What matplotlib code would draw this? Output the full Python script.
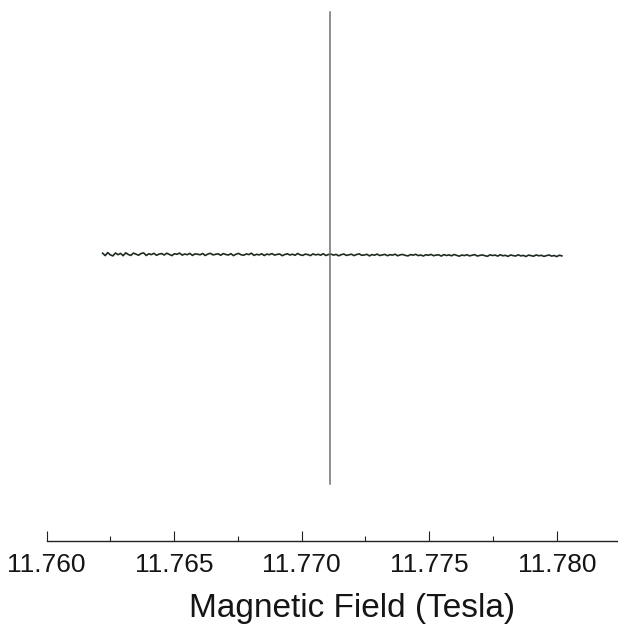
import numpy as np
import matplotlib
matplotlib.use("Agg")
import matplotlib.pyplot as plt

# ---- data (arbitrary signal units) ----
field_start = 11.7622      # Tesla, first sample of the trace
field_end = 11.7802        # Tesla, last sample of the trace
signal = [1.8, -0.6, 2.4, 0.1, -0.9, 2.0, 0.3, 1.6, -0.7, 2.2,
          0.5, -0.4, 1.9, 0.8, -0.2, 1.5, 2.1, -0.5, 1.2, 0.4,
          1.7, -0.3, 0.9, 1.4, 0.0, 1.8, 0.6, -0.6, 1.3, 0.7,
          1.9, -0.1, 1.0, 0.3, 1.6, -0.4, 1.1, 0.8, 0.2, 1.5,
          -0.5, 0.9, 1.7, 0.1, 0.6, 1.2, -0.3, 1.4, 0.5, 0.0,
          1.3, -0.6, 0.8, 1.6, 0.2, -0.2, 1.1, 0.4, 1.8, -0.4,
          0.7, 0.1, 1.2, -0.5, 0.9, 0.3, 1.4, -0.1, 0.6, 1.0,
          -0.7, 0.5, 1.2, 0.0, 0.8, -0.3, 1.5, 0.2, -0.4, 0.9,
          0.4, -0.6, 1.1, 0.1, 0.7, -0.2, 1.3, -0.5, 0.5, 0.9,
          -0.1, 0.6, -0.8, 0.3, 1.0, -0.4, 0.2, 0.8, -0.6, 0.5,
          1.1, -0.3, 0.0, 0.7, -0.9, 0.4, -0.2, 0.9, -0.5, 0.1,
          0.6, -0.7, 0.3, -0.1, 0.8, -0.8, 0.2, 0.5, -0.4, -0.9,
          0.4, -0.2, 0.7, -0.6, 0.0, -1.0, 0.3, -0.3, 0.6, -0.7,
          -0.1, 0.2, -1.1, 0.4, -0.5, 0.1, -0.8, 0.5, -0.3, -1.2,
          0.0, -0.6, 0.3, -0.9, -0.2, 0.4, -1.0, -0.4, 0.1, -0.7,
          -1.3, 0.2, -0.5, -0.1, -1.1, 0.3, -0.8, -0.3, -1.4, 0.0,
          -0.6, -1.0, 0.2, -0.9, -0.4, -1.5, -0.1, -0.7, -1.2, 0.1,
          -0.8, -0.3, -1.4, -0.6, 0.0, -1.1, -0.5, -1.6, -0.2, -0.9]
line_field = [11.7711, 11.7711]     # sharp resonance line
line_signal = [243, -229]

xticks_major = [11.760, 11.765, 11.770, 11.775, 11.780]
xtick_labels = ["11.760", "11.765", "11.770", "11.775", "11.780"]
xticks_minor = [11.7625, 11.7675, 11.7725, 11.7775]
x_label = "Magnetic Field (Tesla)"

field = np.linspace(field_start, field_end, len(signal))

# ---- figure ----
plt.rcParams['font.family'] = ['Liberation Sans', 'DejaVu Sans']
W, H = 618, 626
fig = plt.figure(figsize=(W / 100, H / 100), dpi=100)
ax_left = 46.5 / W
ax_bottom = (H - 541) / H
ax = fig.add_axes([ax_left, ax_bottom, 1 - ax_left, 1 - ax_bottom])

ax.plot(field, signal, color='#1f2a20', lw=1.2, zorder=2)
ax.plot(line_field, line_signal, color='#707070', lw=1.1, zorder=3)

ax.set_xlim(11.760, 11.7824)
ax.set_ylim(-286, 255)

for s in ['top', 'right', 'left']:
    ax.spines[s].set_visible(False)
ax.spines['bottom'].set_color('#222222')
ax.spines['bottom'].set_linewidth(1.0)
ax.set_yticks([])

ax.set_xticks(xticks_major)
ax.set_xticklabels(xtick_labels)
ax.set_xticks(xticks_minor, minor=True)
ax.tick_params(axis='x', which='major', direction='in', length=7.2, width=0.8,
               color='#222222', labelsize=19, labelcolor='#151515', pad=8.5)
ax.tick_params(axis='x', which='minor', direction='in', length=3.6, width=0.8,
               color='#222222')
ax.set_xlabel(x_label, fontsize=24, color='#151515', labelpad=12, x=0.534)

fig.savefig("out.png", dpi=100)
